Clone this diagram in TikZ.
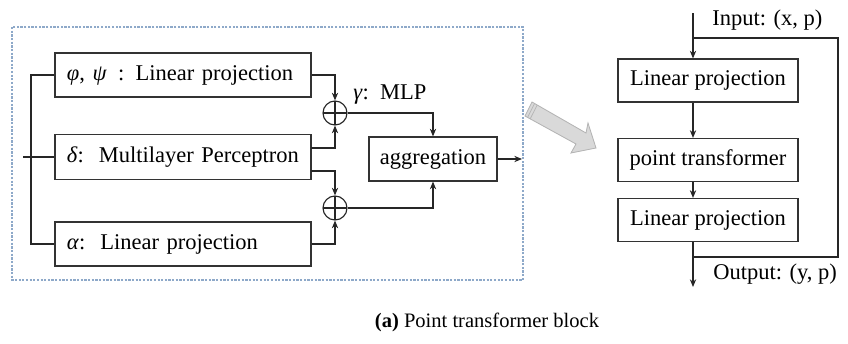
\documentclass[tikz,border=0pt]{standalone}
\usepackage{fontspec}
\setmainfont{Liberation Serif}
\usetikzlibrary{arrows.meta,calc}
\definecolor{frameblue}{HTML}{8EA9C9}
\definecolor{arrowfill}{HTML}{D9D9D9}
\definecolor{arrowedge}{HTML}{B4B4B4}
\tikzstyle{none}=[]
\tikzstyle{wire}=[line width=0.8pt, draw=black!85]
\tikzstyle{arr}=[wire, -{Stealth[length=5.5pt, width=4.5pt]}]
\tikzstyle{block}=[draw=black!80, line width=0.8pt, text width=5.8cm, align=left, inner sep=0.3cm, minimum height=1.1cm, font=\rmfamily\fontsize{16}{19}\selectfont]
\tikzstyle{stage}=[draw=black!80, line width=0.8pt, minimum width=4.5cm, minimum height=1.075cm, inner sep=0pt, font=\rmfamily\fontsize{16}{19}\selectfont]
\tikzstyle{sum}=[draw=black!85, line width=0.8pt, circle, minimum size=0.6cm, inner sep=0pt,
  path picture={\draw [line width=0.8pt] (path picture bounding box.north) -- (path picture bounding box.south)
    (path picture bounding box.west) -- (path picture bounding box.east);}]
\tikzstyle{group}=[draw=frameblue, line width=0.9pt, dash pattern=on 1.6pt off 1pt]

\begin{document}
\begin{tikzpicture}[x=0.025cm, y=-0.025cm, every node/.style={font=\rmfamily\fontsize{16}{19}\selectfont}]
		\useasboundingbox (0,0) rectangle (848,343);
		% point transformer layer
		\draw [style=group] (12,27) rectangle (523,280);
		\node [style=block] (0) at (183,75) {\textit{φ}, \textit{ψ}\enspace: Linear projection};
		\node [style=block] (1) at (183,157) {\textit{δ}:~~Multilayer Perceptron};
		\node [style=block] (2) at (183,244) {\textit{α}:~~Linear projection};
		\node [style=sum] (3) at (335,113) {};
		\node [style=sum] (4) at (335,208) {};
		\node [style=stage, minimum width=3.2cm, minimum height=1.1cm] (5) at (433,159) {aggregation};
		\node [style=none, anchor=west, inner sep=0pt] (6) at (353,95) {\textit{γ}:~~MLP};
		\coordinate (7) at (31,75);
		\coordinate (8) at (31,244);
		\coordinate (9) at (23,157);
		\coordinate (10) at (311,148);
		\coordinate (11) at (311,171);
		\coordinate (12) at (522,159);
		\draw [style=wire] (0.west) -- (7) -- (8) -- (2.west);
		\draw [style=wire] (9) -- (1.west);
		\draw [style=arr] (0.east) -| (3.north);
		\draw [style=arr] (10) -| (3.south);
		\draw [style=arr] (11) -| (4.north);
		\draw [style=arr] (2.east) -| (4.south);
		\draw [style=arr] (3.east) -| (5.north);
		\draw [style=arr] (4.east) -| (5.south);
		\draw [style=arr] (5.east) -- (12);
		% gray block arrow
		\filldraw [fill=arrowfill, draw=arrowedge, line width=0.6pt] (532,102) -- (586,133) -- (588,123) -- (596,148) -- (571,153) -- (576,144) -- (525,116) -- cycle;
		\draw [draw=arrowedge, line width=0.5pt] (534.6,103.5) -- (527.6,117.4) (537.2,105) -- (530.2,118.8);
		% block
		\node [style=stage] (13) at (708,80.5) {Linear projection};
		\node [style=stage] (14) at (708,160) {point transformer};
		\node [style=stage] (15) at (708,220) {Linear projection};
		\coordinate (16) at (693,13);
		\coordinate (17) at (693,38);
		\coordinate (18) at (838,38);
		\coordinate (19) at (693,257);
		\coordinate (20) at (693,287);
		\node [style=none, anchor=west, inner sep=0pt] (21) at (712,20) {Input: (x, p)};
		\node [style=none, anchor=west, inner sep=0pt] (22) at (713,274) {Output: (y, p)};
		\draw [style=arr] (16) -- (16 |- 13.north);
		\draw [style=arr] (16 |- 13.south) -- (16 |- 14.north);
		\draw [style=arr] (16 |- 14.south) -- (16 |- 15.north);
		\draw [style=arr] (16 |- 15.south) -- (20);
		\draw [style=wire] (17) -- (18) -- (18 |- 19) -- (19);
		\node [style=none, font=\rmfamily\fontsize{14.6}{17}\selectfont] (23) at (487,322) {\textbf{(a)} Point transformer block};
\end{tikzpicture}
\end{document}
